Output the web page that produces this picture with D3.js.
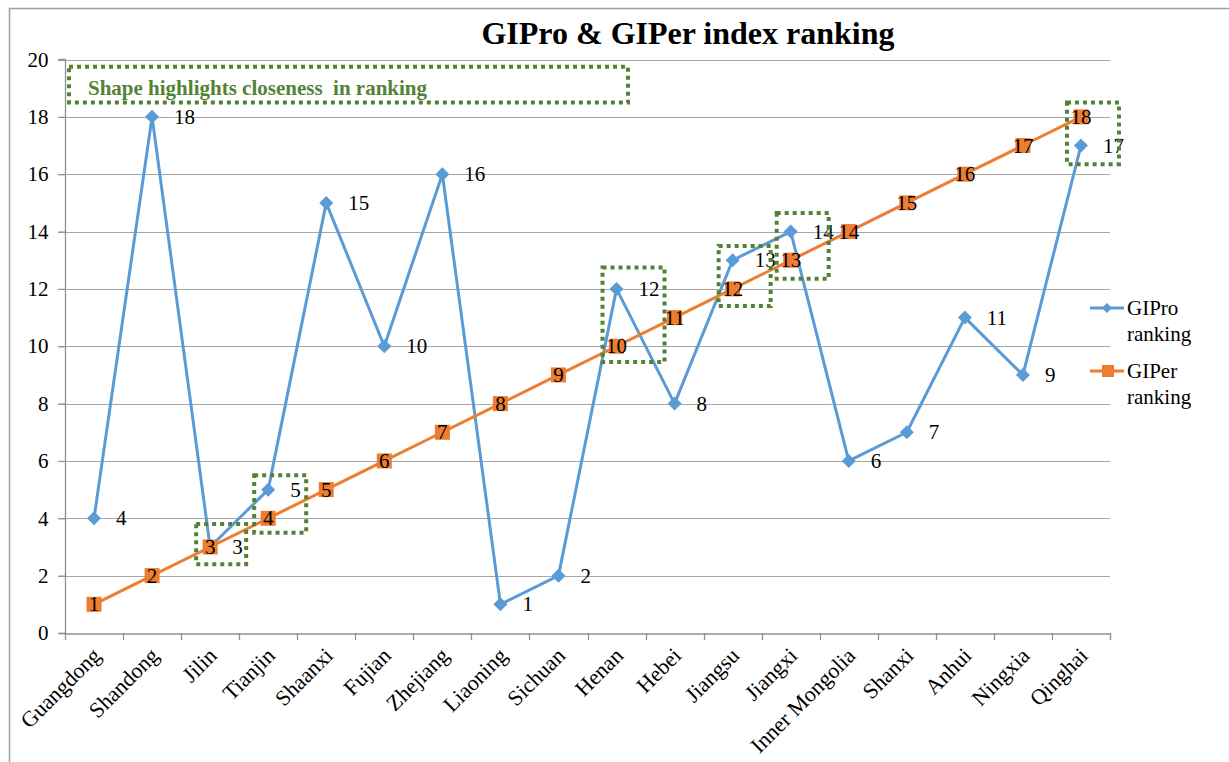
<!DOCTYPE html>
<html>
<head>
<meta charset="utf-8">
<script src="https://cdn.jsdelivr.net/npm/d3@7"></script>
<style>
  body { margin: 0; background: #fff; }
</style>
</head>
<body>
<svg width="1229" height="762"></svg>
<script>
var provinces = ["Guangdong", "Shandong", "Jilin", "Tianjin", "Shaanxi", "Fujian", "Zhejiang", "Liaoning", "Sichuan",
  "Henan", "Hebei", "Jiangsu", "Jiangxi", "Inner Mongolia", "Shanxi", "Anhui", "Ningxia", "Qinghai"];
var giproRank = [4, 18, 3, 5, 15, 10, 16, 1, 2, 12, 8, 13, 14, 6, 7, 11, 9, 17];
var giperRank = [1, 2, 3, 4, 5, 6, 7, 8, 9, 10, 11, 12, 13, 14, 15, 16, 17, 18];
var yTicks = [0, 2, 4, 6, 8, 10, 12, 14, 16, 18, 20];
// closeness highlights: province, top value, bottom value
var highlights = [
  ["Jilin", 3.8, 2.4], ["Tianjin", 5.5, 3.5], ["Henan", 12.75, 9.45],
  ["Jiangsu", 13.5, 11.4], ["Jiangxi", 14.65, 12.35], ["Qinghai", 18.5, 16.35]
];
var noteText = "Shape highlights closeness  in ranking";

var svg = d3.select("svg");
var blue = "#5b9bd5", orange = "#ed7d31", green = "#548235";
var serif = "'Liberation Serif', 'Times New Roman', serif";

// outer frame
svg.append("rect").attr("x", 9.5).attr("y", 8.5).attr("width", 1240).attr("height", 780)
  .attr("fill", "none").attr("stroke", "#a0a0a0").attr("stroke-width", 1.5);

var x = d3.scaleBand().domain(provinces).range([65, 1110]);
var y = d3.scaleLinear().domain([0, 20]).range([633, 59.5]);
var cx = function(p) { return x(p) + x.bandwidth() / 2; };

// gridlines + y axis
svg.selectAll(".grid").data(yTicks.slice(1)).enter().append("line")
  .attr("x1", 58).attr("x2", 1110)
  .attr("y1", d => Math.round(y(d)) + 0.5).attr("y2", d => Math.round(y(d)) + 0.5)
  .attr("stroke", "#a6a6a6").attr("stroke-width", 1.2);

var yAxis = svg.append("g").attr("transform", "translate(65.5,0)")
  .call(d3.axisLeft(y).tickValues(yTicks).tickSize(7).tickPadding(10));
yAxis.selectAll("line").attr("stroke", "#909090").attr("stroke-width", 1.3);
yAxis.select(".domain").attr("stroke", "#909090").attr("stroke-width", 1.3).attr("d", "M-7,59.5H0V633.5H-7");
yAxis.selectAll("text").attr("font-size", 21).attr("fill", "#000");

var xAxis = svg.append("g").attr("transform", "translate(0,633.5)")
  .call(d3.axisBottom(x).tickSize(0).tickFormat(""));
xAxis.select(".domain").attr("stroke", "#909090").attr("stroke-width", 1.3);
svg.selectAll(".xtick").data(provinces.concat(["end"])).enter().append("line")
  .attr("x1", (d, i) => Math.round(65 + i * x.bandwidth()) + 0.5)
  .attr("x2", (d, i) => Math.round(65 + i * x.bandwidth()) + 0.5)
  .attr("y1", 633).attr("y2", 640).attr("stroke", "#909090").attr("stroke-width", 1.3);
svg.selectAll(".xlab").data(provinces).enter().append("text")
  .attr("transform", d => "translate(" + (cx(d) + 8) + ",657) rotate(-45)")
  .attr("text-anchor", "end").attr("font-size", 22).attr("fill", "#000").text(d => d);

// title
svg.append("text").attr("x", 688).attr("y", 44).attr("text-anchor", "middle")
  .attr("font-size", 32).attr("font-weight", "bold").text("GIPro & GIPer index ranking");

// lines
var line = d3.line().x((d, i) => cx(provinces[i])).y(d => y(d));
svg.append("path").datum(giproRank).attr("d", line).attr("fill", "none")
  .attr("stroke", blue).attr("stroke-width", 3).attr("stroke-linejoin", "round");
svg.append("path").datum(giperRank).attr("d", line).attr("fill", "none")
  .attr("stroke", orange).attr("stroke-width", 3).attr("stroke-linejoin", "round");

// markers
svg.selectAll(".dia").data(giproRank).enter().append("path")
  .attr("d", "M0,-7L7,0L0,7L-7,0Z").attr("fill", blue)
  .attr("transform", (d, i) => "translate(" + cx(provinces[i]) + "," + y(d) + ")");
svg.selectAll(".sq").data(giperRank).enter().append("rect")
  .attr("x", (d, i) => cx(provinces[i]) - 7.5).attr("y", d => y(d) - 7.5)
  .attr("width", 15).attr("height", 15).attr("fill", orange);

// labels
svg.selectAll(".lbl1").data(giproRank).enter().append("text")
  .attr("x", (d, i) => cx(provinces[i]) + 22).attr("y", d => y(d) + 7)
  .attr("font-size", 21).text(d => d);
svg.selectAll(".lbl2").data(giperRank).enter().append("text")
  .attr("x", (d, i) => cx(provinces[i])).attr("y", d => y(d) + 7)
  .attr("text-anchor", "middle").attr("font-size", 21).text(d => d);

// highlight boxes
svg.selectAll(".hl").data(highlights).enter().append("rect")
  .attr("x", d => cx(d[0]) - 14).attr("y", d => y(d[1]))
  .attr("width", d => d[0] === "Henan" ? 62 : (d[0] === "Jilin" ? 50 : 52))
  .attr("height", d => y(d[2]) - y(d[1]))
  .attr("fill", "none").attr("stroke", green).attr("stroke-width", 4).attr("stroke-dasharray", "4,4");

// note box
svg.append("rect").attr("x", 69).attr("y", y(19.75)).attr("width", 559).attr("height", y(18.5) - y(19.75))
  .attr("fill", "none").attr("stroke", green).attr("stroke-width", 4).attr("stroke-dasharray", "4,4");
svg.append("text").attr("x", 88).attr("y", 95).attr("font-size", 21).attr("font-weight", "bold")
  .attr("fill", green).style("white-space", "pre").text(noteText);

// legend
var legend = [["GIPro", blue, "dia"], ["GIPer", orange, "sq"]];
legend.forEach(function(l, i) {
  var ly = 308 + i * 63;
  svg.append("line").attr("x1", 1090).attr("x2", 1124).attr("y1", ly).attr("y2", ly)
    .attr("stroke", l[1]).attr("stroke-width", 3);
  if (l[2] === "dia") {
    svg.append("path").attr("d", "M0,-5L5,0L0,5L-5,0Z").attr("fill", l[1])
      .attr("transform", "translate(1107," + ly + ")");
  } else {
    svg.append("rect").attr("x", 1102).attr("y", ly - 6).attr("width", 12).attr("height", 12).attr("fill", l[1]);
  }
  svg.append("text").attr("x", 1127).attr("y", ly + 7).attr("font-size", 21).text(l[0]);
  svg.append("text").attr("x", 1127).attr("y", ly + 33).attr("font-size", 21).text("ranking");
});

svg.selectAll("text").attr("font-family", serif).style("font-family", serif);
</script>
</body>
</html>
